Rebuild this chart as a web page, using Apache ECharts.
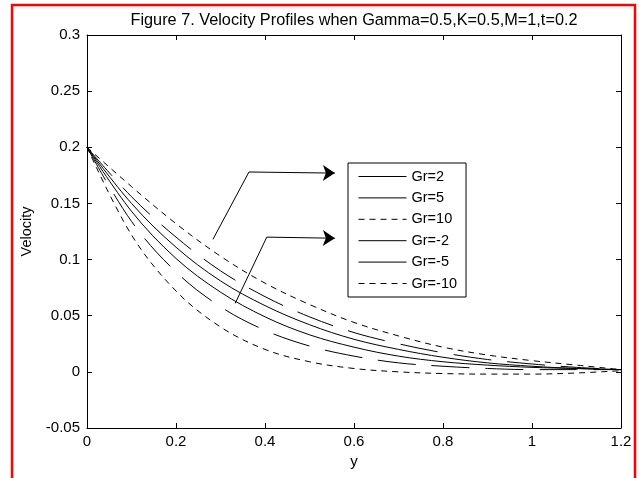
<!DOCTYPE html>
<html>
<head>
<meta charset="utf-8">
<title>Velocity Profiles</title>
<script src="https://cdn.jsdelivr.net/npm/echarts@6/dist/echarts.min.js"></script>
<style>
    html, body { margin: 0; padding: 0; background: #fff; }
    #chart { width: 641px; height: 478px; }
</style>
</head>
<body>
<div id="chart"></div>
<script>
    'use strict';

    var yPos = [0, 0.1, 0.2, 0.3, 0.4, 0.5, 0.6, 0.7, 0.8, 0.9, 1.0, 1.1, 1.2];
    var names = ['Gr=2', 'Gr=5', 'Gr=10', 'Gr=-2', 'Gr=-5', 'Gr=-10'];
    var gr2 = [0.200, 0.150, 0.111, 0.081, 0.059, 0.042, 0.029, 0.020, 0.013, 0.008, 0.005, 0.003, 0.002];
    var gr5 = [0.200, 0.156, 0.120, 0.090, 0.067, 0.049, 0.035, 0.025, 0.017, 0.011, 0.007, 0.004, 0.002];
    var gr10 = [0.200, 0.165, 0.132, 0.103, 0.079, 0.060, 0.044, 0.032, 0.022, 0.015, 0.010, 0.006, 0.002];
    var grm2 = [0.200, 0.143, 0.101, 0.071, 0.049, 0.033, 0.022, 0.014, 0.009, 0.006, 0.004, 0.003, 0.002];
    var grm5 = [0.200, 0.134, 0.089, 0.058, 0.037, 0.023, 0.014, 0.008, 0.005, 0.003, 0.002, 0.002, 0.002];
    var grm10 = [0.200, 0.122, 0.072, 0.040, 0.020, 0.009, 0.003, 0.000, -0.0015, -0.002, -0.002, -0.001, 0.001];
    // annotation arrows, in data units: [start, kink, tip]
    var arrowUpper = [[0.283, 0.118], [0.364, 0.178], [0.557, 0.177]];
    var arrowLower = [[0.333, 0.061], [0.404, 0.120], [0.557, 0.119]];

    var font = 'Liberation Sans, Arial, sans-serif';
    var shortDash = [6, 5];
    var longDash = [38, 16];

    var toPairs = function (vals) {
        var out = [];
        for (var i = 0; i < vals.length; i++) out.push([yPos[i], vals[i]]);
        return out;
    };

    var curve = function (name, vals, dash) {
        return {
            name: name,
            type: 'line',
            data: toPairs(vals),
            smooth: 0.35,
            symbol: 'none',
            itemStyle: { color: '#000' },
            lineStyle: { color: '#000', width: 1, type: dash }
        };
    };

    var arrowSeries = function (pts) {
        return [{
            type: 'lines',
            coordinateSystem: 'cartesian2d',
            symbol: 'none',
            lineStyle: { color: '#000', width: 1, opacity: 1 },
            data: [{ coords: [pts[0], pts[1]] }]
        }, {
            type: 'lines',
            coordinateSystem: 'cartesian2d',
            symbol: ['none', 'arrow'],
            symbolSize: [9, 12],
            lineStyle: { color: '#000', width: 1, opacity: 1 },
            data: [{ coords: [pts[1], pts[2]] }]
        }];
    };

    var tickFmt = function (v) { return String(Number(v.toFixed(2))); };

    var boxAxis = function (pos) {
        return {
            type: 'value',
            position: pos,
            axisLine: { show: true, onZero: false, lineStyle: { color: '#000', width: 1 } },
            axisTick: { show: true, inside: true, length: 5, lineStyle: { color: '#000' } },
            axisLabel: { show: false },
            splitLine: { show: false }
        };
    };

    var xTop = boxAxis('top');
    xTop.min = 0; xTop.max = 1.2; xTop.interval = 0.2;
    var yRight = boxAxis('right');
    yRight.min = -0.05; yRight.max = 0.3; yRight.interval = 0.05;

    var series = [
        curve(names[0], gr2, 'solid'),
        curve(names[1], gr5, longDash),
        curve(names[2], gr10, shortDash),
        curve(names[3], grm2, 'solid'),
        curve(names[4], grm5, longDash),
        curve(names[5], grm10, shortDash)
    ].concat(arrowSeries(arrowUpper), arrowSeries(arrowLower));

    // legend keys: Gr=5 and Gr=-5 show plain lines there, no markers
    var legendData = [];
    for (var i = 0; i < names.length; i++) {
        legendData.push({
            name: names[i],
            itemStyle: { opacity: 0, color: 'transparent', borderWidth: 0 },
            lineStyle: { color: '#000', width: 1, type: (i == 2 || i == 5) ? shortDash : 'solid' }
        });
    }

    var option = {
        animation: false,
        backgroundColor: '#fff',
        title: {
            text: 'Figure 7. Velocity Profiles when Gamma=0.5,K=0.5,M=1,t=0.2',
            left: 349,
            top: 8,
            textAlign: 'center',
            textStyle: { fontFamily: font, fontSize: 16.3, fontWeight: 'normal', color: '#000' }
        },
        grid: { left: 87, right: 20, top: 35, bottom: 50, containLabel: false, outerBoundsMode: 'none' },
        legend: {
            orient: 'vertical',
            left: 348,
            top: 163,
            data: legendData,
            itemWidth: 48,
            itemHeight: 14,
            itemGap: 6.4,
            padding: [6, 9, 6, 10],
            backgroundColor: '#fff',
            borderColor: '#000',
            borderWidth: 1,
            borderRadius: 0,
            selectedMode: false,
            textStyle: { fontFamily: font, fontSize: 14.5, color: '#000' }
        },
        xAxis: [{
            type: 'value',
            min: 0,
            max: 1.2,
            interval: 0.2,
            name: 'y',
            nameLocation: 'middle',
            nameGap: 25,
            nameTextStyle: { fontFamily: font, fontSize: 15, color: '#000' },
            axisLine: { show: true, onZero: false, lineStyle: { color: '#000', width: 1 } },
            axisTick: { show: true, inside: true, length: 5, lineStyle: { color: '#000' } },
            axisLabel: { fontFamily: font, fontSize: 15, color: '#000', margin: 6, formatter: tickFmt },
            splitLine: { show: false }
        }, xTop],
        yAxis: [{
            type: 'value',
            min: -0.05,
            max: 0.3,
            interval: 0.05,
            name: 'Velocity',
            nameLocation: 'middle',
            nameGap: 50,
            nameTextStyle: { fontFamily: font, fontSize: 14.5, color: '#000' },
            axisLine: { show: true, onZero: false, lineStyle: { color: '#000', width: 1 } },
            axisTick: { show: true, inside: true, length: 5, lineStyle: { color: '#000' } },
            axisLabel: { fontFamily: font, fontSize: 15, color: '#000', margin: 7, formatter: tickFmt },
            splitLine: { show: false }
        }, yRight],
        graphic: [{
            type: 'rect',
            shape: { x: 12, y: 5, width: 623, height: 500 },
            style: { fill: 'none', stroke: '#f00', lineWidth: 2.5 },
            silent: true,
            z: 100
        }],
        series: series
    };

    echarts.init(document.getElementById('chart')).setOption(option, true);
</script>
</body>
</html>
